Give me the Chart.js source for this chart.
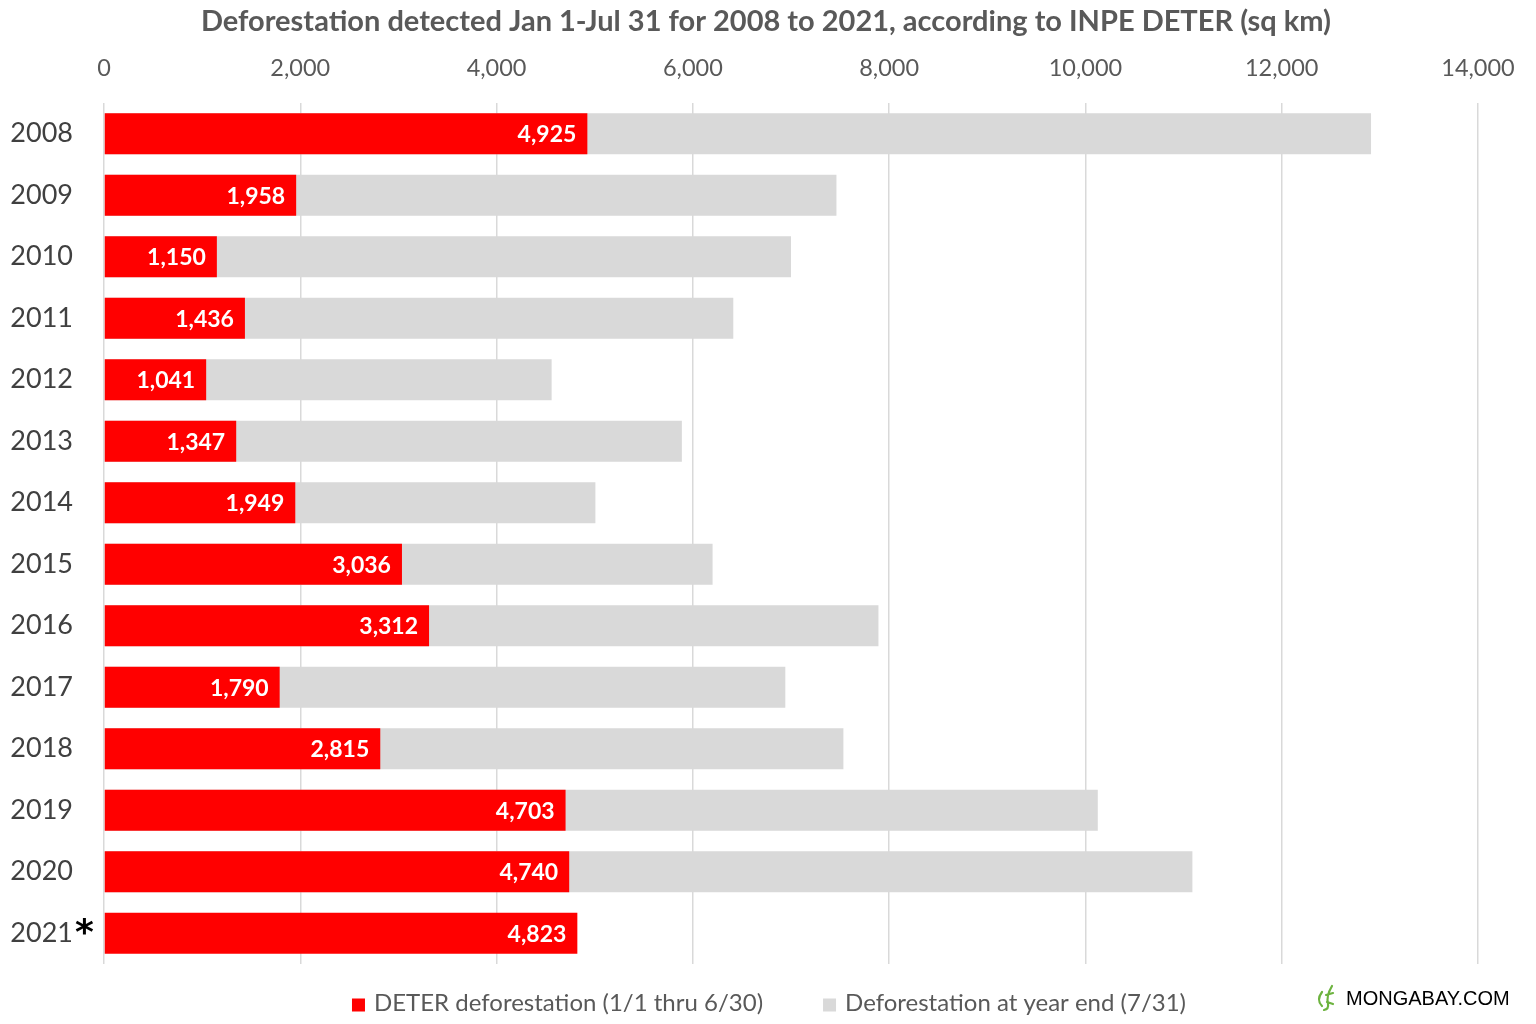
<!DOCTYPE html>
<html>
<head>
<meta charset="utf-8">
<script src="https://cdn.jsdelivr.net/npm/chart.js@4"></script>
<style>
html,body{margin:0;padding:0;background:#fff;}
canvas{display:block;}
</style>
</head>
<body>
<canvas id="c" width="1536" height="1024"></canvas>
<script>
const titleText = "Deforestation detected Jan 1-Jul 31 for 2008 to 2021, according to INPE DETER (sq km)";
const years = ["2008","2009","2010","2011","2012","2013","2014","2015","2016","2017","2018","2019","2020","2021"];
const markedYears = ["2021"];
const deterJanJun = [4925,1958,1150,1436,1041,1347,1949,3036,3312,1790,2815,4703,4740,4823];
const yearEndTotal = [12910,7463,7000,6412,4561,5888,5007,6201,7891,6942,7534,10126,11090,null];
const seriesNames = ["DETER deforestation (1/1 thru 6/30)","Deforestation at year end (7/31)"];
const seriesColors = ["#FF0000","#D9D9D9"];
const xTicks = {min:0, max:14000, step:2000};
const sourceText = "MONGABAY.COM";

const FONT = "Lato, 'Open Sans', sans-serif";
const fmt = v => v.toLocaleString('en-US');

const valueLabels = {
  id:'valueLabels',
  afterDatasetsDraw(chart){
    const ctx = chart.ctx;
    const meta = chart.getDatasetMeta(0);
    ctx.save();
    ctx.font = "bold 23px " + FONT;
    ctx.fillStyle = "#FFFFFF";
    ctx.textAlign = "right";
    ctx.textBaseline = "middle";
    meta.data.forEach((bar,i)=>{
      const v = chart.data.datasets[0].data[i];
      if(v==null) return;
      ctx.fillText(fmt(v), bar.x - 11, bar.y + 1);
    });
    ctx.restore();
  }
};

const extras = {
  id:'extras',
  afterDraw(chart){
    const ctx = chart.ctx;
    const yScale = chart.scales.y;
    ctx.save();
    // title
    ctx.font = "bold 29px " + FONT;
    ctx.fillStyle = "#595959";
    ctx.textAlign = "center";
    ctx.textBaseline = "middle";
    ctx.fillText(titleText, 766, 22);
    // asterisk marks
    ctx.font = "bold 36px 'DejaVu Sans', sans-serif";
    ctx.fillStyle = "#000";
    ctx.textAlign = "left";
    markedYears.forEach(y=>{
      const idx = years.indexOf(y);
      if(idx<0) return;
      const py = yScale.getPixelForValue(idx);
      ctx.fillText("*", 75, py + 1);
    });
    // custom legend
    ctx.font = "24px " + FONT;
    const box = 13, gapText = 9, gapItems = 60;
    const ds = chart.data.datasets;
    const widths = ds.map(d=>box+gapText+ctx.measureText(d.label).width);
    const total = widths.reduce((a,b)=>a+b,0) + gapItems*(ds.length-1);
    let x = 769 - total/2;
    const ly = 1003;
    ds.forEach((d,i)=>{
      ctx.fillStyle = d.backgroundColor;
      ctx.fillRect(x, ly - box/2 + 2, box, box);
      ctx.fillStyle = "#595959";
      ctx.fillText(d.label, x + box + gapText, ly);
      x += widths[i] + gapItems;
    });
    // source mark
    ctx.fillStyle = "#000";
    ctx.font = "20px 'Liberation Sans', Arial, sans-serif";
    ctx.fillText(sourceText, 1346, 999);
    // little green lizard icon
    ctx.strokeStyle = "#6DB33F";
    ctx.lineWidth = 2.2;
    ctx.lineCap = "round";
    ctx.beginPath();
    ctx.moveTo(1322, 992);
    ctx.quadraticCurveTo(1316, 1000, 1322, 1006);
    ctx.moveTo(1332, 986);
    ctx.quadraticCurveTo(1326, 996, 1328, 1004);
    ctx.quadraticCurveTo(1329, 1009, 1324, 1010);
    ctx.moveTo(1326, 995); ctx.lineTo(1333, 993);
    ctx.moveTo(1327, 1002); ctx.lineTo(1333, 1004);
    ctx.stroke();
    ctx.restore();
  }
};

new Chart(document.getElementById('c'), {
  type:'bar',
  data:{
    labels: years,
    datasets:[
      {label:seriesNames[0], data:deterJanJun, backgroundColor:seriesColors[0], borderWidth:0, categoryPercentage:1, barPercentage:0.667},
      {label:seriesNames[1], data:yearEndTotal, backgroundColor:seriesColors[1], borderWidth:0, categoryPercentage:1, barPercentage:0.667}
    ]
  },
  plugins:[valueLabels, extras],
  options:{
    indexAxis:'y',
    responsive:false,
    animation:false,
    devicePixelRatio:1,
    layout:{padding:{left:0,right:58,top:52,bottom:60}},
    datasets:{bar:{grouped:false}},
    plugins:{
      legend:{display:false},
      tooltip:{enabled:false},
      title:{display:false}
    },
    scales:{
      x:{
        position:'top',
        min:xTicks.min, max:xTicks.max,
        ticks:{stepSize:xTicks.step, color:"#595959", font:{family:FONT, size:23.5}, padding:20, callback:v=>fmt(v)},
        grid:{color:"#D9D9D9", lineWidth:1.5, drawTicks:false},
        border:{display:false},
        afterFit(s){ s.height = 51; }
      },
      y:{
        ticks:{color:"#404040", font:{family:FONT, size:27}, padding:31},
        grid:{display:false, drawTicks:false},
        border:{display:false},
        afterFit(s){ s.width = 104; }
      }
    }
  }
});
</script>
</body>
</html>
